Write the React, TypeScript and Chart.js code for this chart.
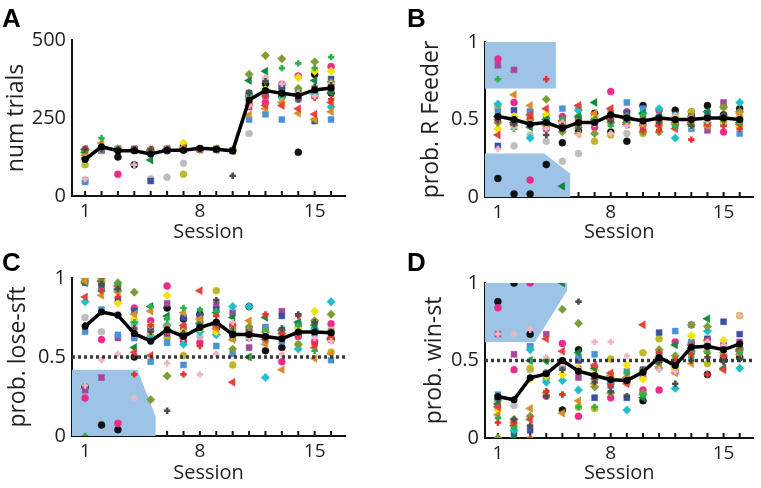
import React, { useEffect, useRef } from 'react';
import { Chart, registerables } from 'chart.js';
Chart.register(...registerables);

// ---------- data ----------
const sessions = [1, 2, 3, 4, 5, 6, 7, 8, 9, 10, 11, 12, 13, 14, 15, 16];
const labeledSessions = [1, 8, 15];
const X_MIN = 0.2;
const X_MAX = 16.85;

const ticksA = [0, 250, 500];
const ticksProb = [0, 0.5, 1];

const meanTrials = [117, 158, 145, 145, 135, 147, 147, 153, 150, 145, 308, 338, 329, 322, 340, 346];
const meanRFeeder = [0.52, 0.5, 0.47, 0.48, 0.443, 0.48, 0.48, 0.53, 0.51, 0.49, 0.51, 0.5, 0.5, 0.51, 0.51, 0.5];
const meanLoseShift = [0.694, 0.785, 0.764, 0.648, 0.6, 0.673, 0.63, 0.686, 0.72, 0.643, 0.643, 0.63, 0.616, 0.658, 0.658, 0.654];
const meanWinStay = [0.268, 0.247, 0.388, 0.414, 0.5, 0.431, 0.403, 0.376, 0.371, 0.425, 0.52, 0.468, 0.586, 0.592, 0.569, 0.607];

// one row per animal, one value per session
const numTrials = [
  [120, 150, 125, 100, 140, 145, 160, 150, 150, 145, 320, 360, 320, 140, 390, 330],
  [150, 150, 70, 150, 148, 150, 148, 150, 150, 145, 295, 300, 358, 385, 320, 415],
  [145, 150, 150, 148, 55, 60, 105, 150, 150, 148, 200, 375, 350, 330, 335, 355],
  [100, 150, 150, 148, 148, 148, 70, 150, 150, 145, 330, 340, 345, 330, 330, 340],
  [140, 150, 150, 150, 145, 150, 150, 150, 150, 145, 285, 320, 330, 320, 330, 340],
  [50, 150, 150, 150, 48, 150, 150, 150, 150, 145, 330, 335, 345, 335, 240, 375],
  [45, 145, 150, 145, 145, 148, 148, 150, 148, 145, 245, 262, 245, 310, 325, 245],
  [150, 150, 152, 148, 148, 150, 150, 150, 150, 146, 320, 320, 315, 325, 325, 285],
  [140, 150, 150, 148, 148, 150, 170, 150, 150, 145, 310, 340, 300, 380, 400, 400],
  [150, 150, 150, 148, 145, 150, 150, 150, 150, 145, 390, 450, 440, 345, 430, 365],
  [140, 150, 150, 148, 115, 150, 150, 150, 150, 145, 370, 400, 330, 325, 370, 330],
  [130, 170, 150, 148, 148, 150, 155, 150, 150, 145, 260, 280, 300, 265, 245, 270],
  [150, 150, 148, 150, 148, 150, 150, 150, 150, 145, 290, 290, 290, 280, 262, 300],
  [145, 185, 150, 150, 150, 150, 150, 150, 150, 145, 330, 368, 410, 425, 410, 445],
  [150, 150, 150, 150, 150, 150, 150, 150, 150, 145, 305, 320, 325, 310, 315, 310],
  [55, 150, 150, 100, 150, 150, 150, 150, 150, 145, 290, 380, 360, 330, 320, 360],
  [150, 150, 150, 150, 150, 150, 150, 150, 150, 65, 330, 368, 330, 310, 350, 355],
];

const probRFeeder = [
  [0.12, 0.02, 0.02, 0.21, 0.35, 0.43, 0.54, 0.42, 0.36, 0.59, 0.5, 0.56, 0.52, 0.59, 0.53, 0.57],
  [0.89, 0.61, 0.11, 0.44, 0.52, 0.5, 0.45, 0.68, 0.55, 0.47, 0.56, 0.49, 0.55, 0.47, 0.42, 0.5],
  [0.52, 0.33, 0.4, 0.36, 0.23, 0.28, 0.48, 0.5, 0.41, 0.5, 0.48, 0.5, 0.5, 0.52, 0.5, 0.5],
  [0.58, 0.5, 0.52, 0.46, 0.48, 0.52, 0.36, 0.4, 0.48, 0.41, 0.46, 0.5, 0.55, 0.48, 0.58, 0.52],
  [0.85, 0.82, 0.55, 0.48, 0.5, 0.47, 0.48, 0.52, 0.5, 0.45, 0.48, 0.46, 0.5, 0.43, 0.61, 0.47],
  [0.33, 0.56, 0.48, 0.52, 0.45, 0.5, 0.52, 0.5, 0.54, 0.52, 0.5, 0.48, 0.52, 0.54, 0.5, 0.49],
  [0.55, 0.5, 0.55, 0.5, 0.57, 0.58, 0.5, 0.54, 0.61, 0.57, 0.52, 0.53, 0.44, 0.53, 0.47, 0.41],
  [0.6, 0.48, 0.38, 0.5, 0.47, 0.56, 0.49, 0.52, 0.5, 0.54, 0.57, 0.38, 0.5, 0.48, 0.52, 0.61],
  [0.44, 0.52, 0.49, 0.53, 0.46, 0.49, 0.52, 0.5, 0.47, 0.5, 0.48, 0.52, 0.46, 0.5, 0.48, 0.45],
  [0.48, 0.46, 0.5, 0.63, 0.42, 0.45, 0.41, 0.48, 0.52, 0.42, 0.42, 0.47, 0.5, 0.46, 0.58, 0.55],
  [0.52, 0.48, 0.45, 0.5, 0.07, 0.52, 0.61, 0.5, 0.48, 0.54, 0.52, 0.5, 0.47, 0.55, 0.52, 0.48],
  [0.5, 0.66, 0.59, 0.46, 0.49, 0.41, 0.54, 0.57, 0.5, 0.46, 0.5, 0.48, 0.52, 0.46, 0.5, 0.54],
  [0.4, 0.47, 0.53, 0.57, 0.49, 0.59, 0.5, 0.57, 0.47, 0.5, 0.46, 0.44, 0.48, 0.5, 0.51, 0.47],
  [0.76, 0.44, 0.47, 0.48, 0.5, 0.44, 0.5, 0.46, 0.48, 0.53, 0.5, 0.46, 0.47, 0.5, 0.49, 0.48],
  [0.49, 0.48, 0.51, 0.76, 0.47, 0.49, 0.48, 0.5, 0.46, 0.43, 0.43, 0.49, 0.37, 0.47, 0.46, 0.44],
  [0.31, 0.45, 0.48, 0.44, 0.48, 0.4, 0.47, 0.41, 0.46, 0.48, 0.5, 0.52, 0.49, 0.49, 0.52, 0.5],
  [0.5, 0.47, 0.46, 0.4, 0.46, 0.44, 0.48, 0.49, 0.5, 0.49, 0.48, 0.5, 0.46, 0.52, 0.53, 0.5],
];

const probLoseShift = [
  [0.31, 0.07, 0.04, 0.5, 0.63, 0.81, 0.74, 0.77, 0.68, 0.65, 0.82, 0.54, 0.56, 0.64, 0.66, 0.61],
  [0.24, 0.61, 0.08, 0.81, 0.73, 0.95, 0.6, 0.59, 0.72, 0.7, 0.66, 0.62, 0.47, 0.63, 0.6, 0.71],
  [0.75, 0.66, 0.77, 0.7, 0.66, 0.7, 0.63, 0.63, 0.65, 0.68, 0.68, 0.6, 0.64, 0.66, 0.67, 0.67],
  [0.98, 0.97, 0.95, 0.66, 0.63, 0.62, 0.51, 0.74, 0.92, 0.45, 0.63, 0.62, 0.62, 0.58, 0.67, 0.53],
  [0.29, 0.37, 0.62, 0.63, 0.68, 0.84, 0.69, 0.68, 0.83, 0.78, 0.56, 0.68, 0.79, 0.7, 0.72, 0.66],
  [0.97, 0.94, 0.86, 0.79, 0.68, 0.65, 0.75, 0.76, 0.8, 0.62, 0.68, 0.65, 0.76, 0.69, 0.66, 0.64],
  [0.66, 0.8, 0.64, 0.62, 0.47, 0.59, 0.45, 0.7, 0.57, 0.52, 0.62, 0.69, 0.6, 0.71, 0.65, 0.48],
  [0.85, 0.92, 0.92, 0.72, 0.62, 0.7, 0.58, 0.66, 0.64, 0.82, 0.82, 0.37, 0.67, 0.55, 0.68, 0.85],
  [1.0, 0.98, 0.84, 0.74, 0.7, 0.89, 0.66, 0.68, 0.66, 0.67, 0.64, 0.66, 0.64, 0.68, 0.79, 0.66],
  [1.0, 1.0, 0.97, 0.91, 0.23, 0.38, 0.65, 0.72, 0.7, 0.55, 0.69, 0.66, 0.65, 0.58, 0.73, 0.77],
  [0.97, 0.98, 0.93, 0.56, 0.82, 0.76, 0.62, 0.71, 0.78, 0.75, 0.5, 0.75, 0.67, 0.72, 0.7, 0.62],
  [0.98, 0.89, 0.91, 0.77, 0.79, 0.69, 0.78, 0.74, 0.68, 0.61, 0.73, 0.58, 0.42, 0.65, 0.49, 0.52],
  [0.88, 0.98, 0.95, 0.53, 0.51, 0.66, 0.7, 0.92, 0.7, 0.34, 0.65, 0.61, 0.62, 0.64, 0.56, 0.61],
  [0.0, 0.97, 0.96, 0.72, 0.82, 0.74, 0.81, 0.8, 0.79, 0.68, 0.5, 0.66, 0.67, 0.7, 0.54, 0.65],
  [0.7, 0.92, 0.88, 0.39, 0.7, 0.66, 0.39, 0.57, 0.76, 0.7, 0.62, 0.77, 0.65, 0.76, 0.58, 0.63],
  [0.32, 0.48, 0.52, 0.24, 0.66, 0.46, 0.62, 0.39, 0.52, 0.72, 0.62, 0.64, 0.52, 0.66, 0.62, 0.6],
  [0.7, 0.96, 0.93, 0.68, 0.66, 0.16, 0.65, 0.7, 0.86, 0.66, 0.64, 0.62, 0.68, 0.77, 0.72, 0.66],
];

const probWinStay = [
  [0.88, 1.0, 0.67, 0.42, 0.18, 0.57, 0.4, 0.37, 0.37, 0.24, 0.5, 0.46, 0.58, 0.41, 0.52, 0.52],
  [0.84, 0.44, 1.0, 0.27, 0.61, 0.14, 0.46, 0.26, 0.36, 0.31, 0.31, 0.62, 0.61, 0.6, 0.58, 0.58],
  [0.27, 0.21, 0.44, 0.42, 0.5, 0.45, 0.4, 0.36, 0.38, 0.44, 0.52, 0.46, 0.57, 0.6, 0.55, 0.61],
  [0.24, 0.09, 0.45, 0.38, 0.46, 0.2, 0.19, 0.51, 0.36, 0.55, 0.64, 0.5, 0.55, 0.48, 0.6, 0.79],
  [0.67, 0.54, 0.59, 0.67, 0.48, 0.39, 0.4, 0.38, 0.37, 0.4, 0.55, 0.44, 0.73, 0.63, 0.6, 0.62],
  [0.2, 0.03, 0.05, 0.41, 0.48, 0.5, 0.26, 0.34, 0.26, 0.44, 0.68, 0.43, 0.61, 0.64, 0.75, 0.67],
  [0.28, 0.07, 0.59, 0.4, 0.46, 0.52, 0.54, 0.4, 0.43, 0.4, 0.54, 0.69, 0.62, 0.59, 0.58, 0.56],
  [0.25, 0.05, 0.57, 0.36, 0.37, 0.31, 0.38, 0.35, 0.18, 0.28, 0.45, 0.32, 0.56, 0.69, 0.53, 0.45],
  [0.18, 0.09, 0.38, 0.4, 0.41, 0.45, 0.44, 0.4, 0.47, 0.38, 0.5, 0.45, 0.66, 0.55, 0.63, 0.56],
  [0.0, 0.12, 0.14, 0.5, 0.83, 0.74, 0.33, 0.29, 0.39, 0.29, 0.57, 0.53, 0.73, 0.72, 0.58, 0.57],
  [0.22, 0.0, 0.5, 0.5, 1.0, 0.55, 0.45, 0.4, 0.38, 0.26, 0.48, 0.6, 0.58, 0.77, 0.45, 0.57],
  [0.15, 0.1, 0.19, 0.29, 0.16, 0.24, 0.35, 0.4, 0.39, 0.42, 0.46, 0.42, 0.48, 0.56, 0.55, 0.54],
  [0.2, 0.08, 0.12, 0.64, 0.56, 0.44, 0.47, 0.42, 0.35, 0.73, 0.52, 0.49, 0.6, 0.63, 0.44, 0.56],
  [0.13, 0.07, 0.5, 0.3, 0.28, 0.2, 0.2, 0.3, 0.42, 0.28, 0.52, 0.46, 0.52, 0.55, 0.5, 0.55],
  [0.1, 0.1, 0.0, 0.3, 0.28, 0.42, 0.38, 0.34, 0.37, 0.42, 0.55, 0.5, 0.54, 0.41, 0.53, 0.6],
  [0.67, 0.67, 0.7, 0.52, 0.47, 0.45, 0.62, 0.62, 0.53, 0.44, 0.44, 0.43, 0.58, 0.62, 0.6, 0.79],
  [0.25, 0.12, 0.08, 0.27, 0.44, 0.88, 0.36, 0.3, 0.27, 0.44, 0.49, 0.35, 0.5, 0.52, 0.49, 0.51],
];

// shaded regions: [session, value] corners
const regionBTop = [[X_MIN, 0.7], [4.6, 0.7], [4.6, 1.0]];
const regionBBottom = [[X_MIN, 0.28], [3.87, 0.28], [5.5, 0.15], [5.5, 0]];
const regionC = [[X_MIN, 0.42], [4.19, 0.42], [5.31, 0.12], [5.31, 0]];
const regionD = [[X_MIN, 0.62], [3.3, 0.62], [5.29, 0.95], [5.29, 1.0]];
const chanceLevel = 0.5;

// ---------- styles ----------
const subjectColors = ['#111111', '#ec2a8c', '#bdbdbd', '#bdb82a', '#a3489b', '#3a50a0', '#4a92d2', '#1dbfc9', '#f5e400', '#7f9b36', '#12883c', '#d68f2b', '#e4423a', '#2bb34a', '#e5332e', '#f1b6bd', '#4d4d4d'];
const subjectShapes = ['circle', 'circle', 'circle', 'circle', 'rect', 'rect', 'rect', 'rectRot', 'rectRot', 'rectRot', 'triangle', 'triangle', 'triangle', 'cross', 'cross', 'cross', 'cross'];
const FONT = '"Open Sans", "Noto Sans", sans-serif';
const REGION_COLOR = '#9dc3e6';

type Region = { pts: number[][]; fill: string };
type PanelCfg = {
  letter: string; left: number; top: number;
  pad: { left: number; top: number; right: number; bottom: number };
  yWidth: number; xHeight: number;
  yMax: number; yTicks: number[]; yTitle: string;
  mean: number[]; data: number[][]; regions: Region[]; dotted: boolean; letterX: number;
};

const panels: PanelCfg[] = [
  { letter: 'A', left: 0, top: 0, pad: { left: 3, top: 40, right: 35, bottom: 0 }, yWidth: 69, xHeight: 48,
    yMax: 500, yTicks: ticksA, yTitle: 'num trials',
    mean: meanTrials, data: numTrials, regions: [], dotted: false, letterX: 2 },
  { letter: 'B', left: 380, top: 0, pad: { left: 38, top: 42, right: 2, bottom: 0 }, yWidth: 67, xHeight: 47,
    yMax: 1, yTicks: ticksProb, yTitle: 'prob. R Feeder',
    mean: meanRFeeder, data: probRFeeder,
    regions: [{ pts: regionBTop, fill: 'end' }, { pts: regionBBottom, fill: 'origin' }], dotted: false, letterX: 27 },
  { letter: 'C', left: 0, top: 244, pad: { left: 5, top: 34, right: 35, bottom: 3 }, yWidth: 67, xHeight: 49,
    yMax: 1, yTicks: ticksProb, yTitle: 'prob. lose-sft',
    mean: meanLoseShift, data: probLoseShift, regions: [{ pts: regionC, fill: 'origin' }], dotted: true, letterX: 2 },
  { letter: 'D', left: 380, top: 244, pad: { left: 41, top: 39, right: 2, bottom: 3 }, yWidth: 64, xHeight: 47,
    yMax: 1, yTicks: ticksProb, yTitle: 'prob. win-st',
    mean: meanWinStay, data: probWinStay, regions: [{ pts: regionD, fill: 'end' }], dotted: true, letterX: 27 },
];

const decorPlugin = {
  id: 'decor',
  beforeDatasetsDraw(chart: any) {
    const { ctx, chartArea, scales } = chart;
    const x = scales.x;
    ctx.save();
    ctx.strokeStyle = '#111';
    ctx.lineWidth = 2;
    for (const s of sessions) {
      const px = x.getPixelForValue(s);
      ctx.beginPath();
      ctx.moveTo(px, chartArea.bottom);
      ctx.lineTo(px, chartArea.bottom - 5);
      ctx.stroke();
    }
    ctx.restore();
  },
  afterDraw(chart: any, _args: any, opts: any) {
    const { ctx } = chart;
    ctx.save();
    ctx.fillStyle = '#000';
    ctx.font = 'bold 26px "Liberation Sans", Arial, sans-serif';
    ctx.textBaseline = 'alphabetic';
    ctx.fillText(opts.letter, opts.x, 27);
    ctx.restore();
  },
};

function buildDatasets(p: PanelCfg) {
  const ds: any[] = [];
  ds.push({
    type: 'line', data: sessions.map((s, i) => ({ x: s, y: p.mean[i] })),
    borderColor: '#000', borderWidth: 3.5, pointRadius: 3.5, pointBackgroundColor: '#000',
    pointBorderWidth: 0, showLine: true, fill: false, tension: 0, order: 0,
  });
  if (p.dotted) {
    ds.push({
      type: 'line', data: [{ x: X_MIN, y: chanceLevel }, { x: X_MAX, y: chanceLevel }],
      borderColor: '#3a3a3a', borderWidth: 3.5, borderDash: [3, 3], pointRadius: 0, showLine: true,
      fill: false, order: 1,
    });
  }
  p.data.forEach((row, si) => {
    const shape = subjectShapes[si];
    const color = subjectColors[si];
    const isCross = shape === 'cross';
    ds.push({
      type: 'scatter', data: row.map((v, i) => ({ x: sessions[i], y: v })),
      pointStyle: shape,
      rotation: shape === 'triangle' ? -90 : 0,
      pointRadius: shape === 'circle' ? 3.5 : shape === 'rect' ? 4.2 : shape === 'rectRot' ? 4.2 : shape === 'triangle' ? 4.6 : 3.2,
      backgroundColor: color, borderColor: color,
      borderWidth: isCross ? 2.6 : 0.5,
      showLine: false, order: 10 + (p.data.length - si),
    });
  });
  p.regions.forEach((r) => {
    ds.push({
      type: 'line', data: r.pts.map(([x, y]) => ({ x, y })),
      borderWidth: 0, borderColor: REGION_COLOR, backgroundColor: REGION_COLOR,
      pointRadius: 0, showLine: true, fill: r.fill, tension: 0, order: 100,
    });
  });
  return ds;
}

function Panel({ p }: { p: PanelCfg }) {
  const ref = useRef<HTMLCanvasElement>(null);
  useEffect(() => {
    const chart = new Chart(ref.current!, {
      type: 'scatter',
      data: { datasets: buildDatasets(p) },
      plugins: [decorPlugin],
      options: {
        animation: false,
        responsive: false,
        devicePixelRatio: 1,
        events: [],
        layout: { padding: p.pad },
        plugins: {
          legend: { display: false },
          tooltip: { enabled: false },
          decor: { letter: p.letter, x: p.letterX },
        } as any,
        scales: {
          x: {
            type: 'linear', min: X_MIN, max: X_MAX,
            afterBuildTicks: (s: any) => { s.ticks = sessions.map((v) => ({ value: v })); },
            afterFit: (s: any) => { s.height = p.xHeight; },
            grid: { display: false, drawTicks: false },
            border: { display: true, color: '#111', width: 2 },
            ticks: {
              autoSkip: false, maxRotation: 0, padding: 4, color: '#231f20',
              font: { family: FONT, size: 19 },
              callback: (v: any) => (labeledSessions.includes(Number(v)) ? String(v) : ''),
            },
            title: { display: true, text: 'Session', color: '#231f20', padding: 0, font: { family: FONT, size: 20 } },
          },
          y: {
            type: 'linear', min: 0, max: p.yMax,
            afterBuildTicks: (s: any) => { s.ticks = p.yTicks.map((v) => ({ value: v })); },
            afterFit: (s: any) => { s.width = p.yWidth; },
            grid: { display: false, drawTicks: false },
            border: { display: true, color: '#111', width: 2 },
            ticks: {
              padding: 6, color: '#231f20', font: { family: FONT, size: 20 },
              callback: (v: any) => String(v),
            },
            title: { display: true, text: p.yTitle, color: '#231f20', padding: 0, font: { family: FONT, size: 23 } },
          },
        },
      } as any,
    });
    return () => chart.destroy();
  }, [p]);
  return (
    <div style={{ position: 'absolute', left: p.left, top: p.top, width: 380, height: 244 }}>
      <canvas ref={ref} width={380} height={244} style={{ width: 380, height: 244, display: 'block' }} />
    </div>
  );
}

export default function App() {
  return (
    <div style={{ position: 'absolute', left: 0, top: 0, width: 761, height: 488, background: '#fff' }}>
      {panels.map((p) => <Panel key={p.letter} p={p} />)}
    </div>
  );
}
